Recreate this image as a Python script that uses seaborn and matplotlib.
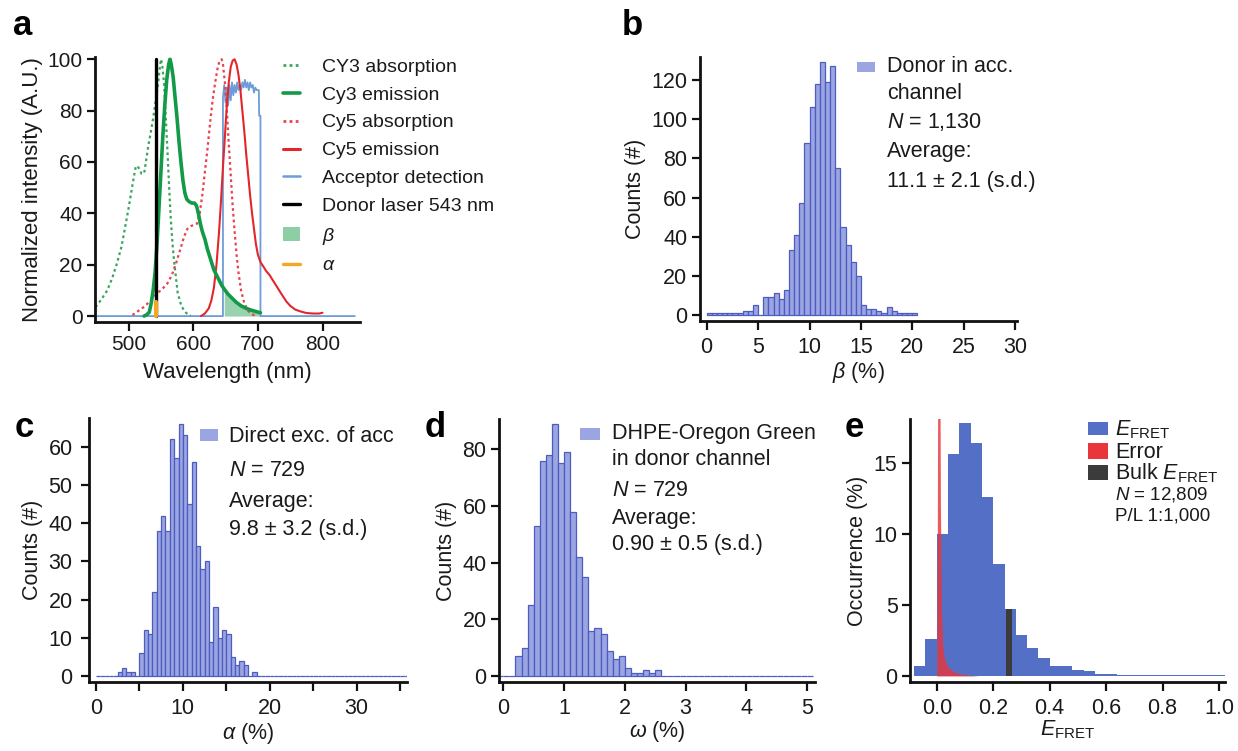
import numpy as np
import matplotlib
matplotlib.use('Agg')
import matplotlib.pyplot as plt
import seaborn as sns
from matplotlib.patches import Patch, Rectangle
from matplotlib.lines import Line2D

sns.set_theme(style='ticks')
plt.rcParams['font.family'] = ['Liberation Sans', 'DejaVu Sans']
plt.rcParams['mathtext.fontset'] = 'custom'
plt.rcParams['mathtext.rm'] = 'Liberation Sans'
plt.rcParams['mathtext.it'] = 'Liberation Sans:italic'
plt.rcParams['mathtext.bf'] = 'Liberation Sans:bold'
plt.rcParams['axes.unicode_minus'] = False

# ---------------- Panel a: spectra ----------------
cy3_abs_wl = [449, 458, 467, 475, 482, 489, 495, 500, 504, 508, 511, 514, 517, 520, 524, 528, 531, 534,
              538, 542, 545, 548, 550, 552, 555, 558, 560, 563, 565, 568, 571, 576, 581, 586, 591, 596]
cy3_abs_val = [3.5, 6.5, 10, 15, 20.5, 27, 35, 42, 48, 54, 58, 58.5, 57, 55.5, 55.5, 62, 67, 71,
               77, 84, 89, 96, 100, 98, 90, 75, 65, 49, 39, 28, 20, 9, 4.5, 2, 0.8, 0.3]

cy3_em_wl = [524, 528, 532, 535, 538, 541, 544, 547, 550, 553, 556, 559, 562, 564, 566, 569, 572, 575,
             578, 581, 584, 587, 590, 594, 598, 602, 605, 608, 611, 614, 618, 622, 627, 632, 638, 644,
             648, 654, 660, 666, 674, 682, 690, 698, 704]
cy3_em_val = [0, 0.5, 1.5, 5, 10, 17, 28, 42, 56, 70, 82, 92, 98, 100, 98, 93, 85, 77,
              68, 60, 53, 48, 45.5, 44.5, 44, 44, 43, 40, 36, 33, 30, 26, 22, 18, 15, 12,
              10.5, 8.5, 7, 5.5, 4, 3, 2.3, 1.7, 1.3]

cy5_abs_wl = [506, 515, 524, 534, 544, 552, 560, 567, 574, 580, 586, 591, 596, 601, 606, 610, 614, 618,
              622, 626, 630, 634, 638, 641, 644, 646, 649, 652, 655, 658, 661, 664, 667, 670, 674, 679,
              685, 691, 697]
cy5_abs_val = [0.4, 2, 3.6, 6, 8.8, 10.5, 12.7, 16, 21, 26, 31, 34, 35, 35.5, 36, 40, 47, 56,
               65, 75, 84, 91, 97, 99.5, 100, 98, 91, 80, 67, 55, 43, 33, 24, 17, 10, 5,
               2, 0.7, 0]

cy5_em_wl = [612, 618, 624, 628, 632, 636, 640, 643, 646, 649, 652, 655, 658, 661, 664, 667, 670, 673,
             676, 679, 682, 685, 688, 691, 694, 697, 700, 704, 708, 713, 718, 723, 728, 733, 738, 744,
             750, 758, 766, 775, 785, 795, 800]
cy5_em_val = [0, 1, 3, 6, 11, 20, 33, 45, 58, 70, 82, 91, 97, 99.5, 100, 98, 94, 88,
              80, 72, 63, 55, 47, 40, 34, 28, 24, 21, 19.5, 17.5, 16, 14, 12, 10, 8, 5.7,
              4, 2.5, 1.8, 1.2, 1, 1, 1.3]

det_wl = [448, 646, 646, 648, 650, 652, 654, 656, 658, 660, 662, 664, 666, 668, 670, 672, 674, 676,
          678, 680, 682, 684, 686, 688, 690, 692, 694, 696, 698, 700, 701.5, 702, 704, 704, 850]
det_val = [0, 0, 85, 90, 83, 89, 82, 90, 84, 91, 86, 90, 87, 91, 88, 90, 88, 91,
           89, 92, 89, 91, 88, 91, 89, 90, 87, 89, 88, 88, 88, 78, 78, 0, 0]

laser_wl = [543, 543]
laser_val = [0, 100]
alpha_wl = [542, 542]
alpha_val = [0, 5.5]
beta_range = (648, 704)

# ---------------- Panel b ----------------
b_start, b_width = 0.0, 0.5
b_counts = [1, 1, 1, 1, 1, 1, 1, 2, 2, 5, 0, 9, 9, 11, 8, 13, 33, 41, 57, 88, 106, 118, 129, 119,
            127, 75, 45, 36, 27, 20, 5, 3, 3, 2, 1, 4, 2, 1, 1, 1, 1]

# ---------------- Panel c ----------------
c_start, c_width = 0.0, 0.5
c_counts = [0, 0, 0, 0, 0, 1, 2, 1, 1, 0, 6, 12, 11, 22, 38, 42, 38, 62, 57, 66, 63, 45, 56, 34,
            28, 30, 9, 18, 10, 12, 11, 5, 3, 4, 3, 0, 1] + [0] * 35

# ---------------- Panel d ----------------
d_start, d_width = -0.1, 0.1
d_counts = [0, 0, 0, 7, 10, 25, 53, 76, 78, 89, 75, 79, 58, 42, 35, 16, 17, 15, 9, 6, 7, 3, 1, 1,
            2, 1, 2] + [0] * 25

# ---------------- Panel e ----------------
e_start, e_width = -0.08, 0.04
e_occ = [0.7, 2.6, 10, 15.6, 17.8, 16.4, 12.6, 7.9, 4.7, 2.9, 2.0, 1.3, 0.7, 0.7, 0.4, 0.35,
         0.15, 0.12, 0.1, 0.1, 0.08, 0.08, 0.06, 0.06, 0.05, 0.05, 0.04, 0.04]
err_x = [0.0, 0.002, 0.0035, 0.011, 0.013, 0.015, 0.017, 0.021, 0.026, 0.032, 0.04, 0.05, 0.065,
         0.085, 0.11, 0.15]
err_y = [0, 10, 22, 22, 12, 8, 4.5, 2.2, 1.4, 0.95, 0.65, 0.45, 0.25, 0.14, 0.06, 0]
bulk_efret = 0.2555
bulk_width = 0.0235
bulk_occ = 4.7

# ---------------- colours ----------------
GREEN_DOT = '#3aa55d'
GREEN = '#139a48'
RED_DOT = '#e8424f'
RED = '#e3262c'
BLUE = '#6d9cd8'
BETA = '#8dcea5'
ALPHA_C = '#f5a623'
H_FILL = '#9aa5e2'
H_EDGE = '#4c5cc0'
E_BLUE = '#5470c6'
E_RED = '#e8363c'
E_BULK = '#3b3b3b'
TXT = '#1a1a1a'

TICK_FS = 15.5
LAB_FS = 15.5
LEG_FS = 15.5

fig = plt.figure(figsize=(12.38, 7.51), dpi=100)
fig.patch.set_facecolor('white')


def style(ax, xlim, ylim, xticks, yticks, xticklabels=None, tfs=TICK_FS):
    ax.set_xlim(*xlim)
    ax.set_ylim(*ylim)
    ax.set_xticks(xticks)
    ax.set_yticks(yticks)
    if xticklabels is not None:
        ax.set_xticklabels(xticklabels)
    for s in ['top', 'right']:
        ax.spines[s].set_visible(False)
    for s in ['left', 'bottom']:
        ax.spines[s].set_linewidth(2.0)
        ax.spines[s].set_color('#111111')
    ax.tick_params(axis='x', direction='out', length=6.5, width=1.6, labelsize=tfs,
                   color='#111111', labelcolor=TXT, pad=5)
    ax.tick_params(axis='y', direction='out', length=6, width=1.6, labelsize=tfs,
                   color='#111111', labelcolor=TXT, pad=3)
    ax.grid(False)
    ax.set_facecolor('white')


def hist(ax, start, width, counts, fill, edge, lw):
    edges = [start + width * i for i in range(len(counts) + 1)]
    centers = [(edges[i] + edges[i + 1]) / 2 for i in range(len(counts))]
    sns.histplot(x=centers, weights=list(counts), bins=edges, ax=ax, color=fill, edgecolor=edge,
                 linewidth=lw, alpha=1, legend=False)


def swatch(ax, x, y, w, h, color):
    ax.add_patch(Rectangle((x, y), w, h, transform=ax.transAxes, facecolor=color,
                           edgecolor='none', clip_on=False))


# ======== a ========
ax = fig.add_axes([0.0767, 0.5716, 0.2141, 0.3529])
sns.lineplot(x=det_wl, y=det_val, ax=ax, color=BLUE, lw=1.3, estimator=None, sort=False)
sub_wl = [w for w in cy3_em_wl if beta_range[0] <= w <= beta_range[1]]
sub_v = [v for w, v in zip(cy3_em_wl, cy3_em_val) if beta_range[0] <= w <= beta_range[1]]
ax.fill_between(sub_wl, 0, sub_v, color=BETA, lw=0, alpha=0.9)
sns.lineplot(x=cy3_abs_wl, y=cy3_abs_val, ax=ax, color=GREEN_DOT, lw=1.6, linestyle=(0, (1.2, 1.4)),
             estimator=None, sort=False)
sns.lineplot(x=cy5_abs_wl, y=cy5_abs_val, ax=ax, color=RED_DOT, lw=1.6, linestyle=(0, (1.2, 1.4)),
             estimator=None, sort=False)
sns.lineplot(x=cy5_em_wl, y=cy5_em_val, ax=ax, color=RED, lw=1.5, estimator=None, sort=False)
sns.lineplot(x=cy3_em_wl, y=cy3_em_val, ax=ax, color=GREEN, lw=2.6, estimator=None, sort=False)
sns.lineplot(x=laser_wl, y=laser_val, ax=ax, color='black', lw=2.4, estimator=None, sort=False)
sns.lineplot(x=alpha_wl, y=alpha_val, ax=ax, color=ALPHA_C, lw=3.0, estimator=None, sort=False)
style(ax, (448, 858), (-2.2, 101), [500, 600, 700, 800], [0, 20, 40, 60, 80, 100], tfs=15)
ax.tick_params(axis='x', pad=3)
ax.set_xlabel('Wavelength (nm)', fontsize=16, color=TXT, labelpad=6)
ax.set_ylabel('Normalized intensity (A.U.)', fontsize=16, color=TXT, labelpad=3)
handles = [
    Line2D([], [], color=GREEN_DOT, lw=2, ls=(0, (1, 1.2))),
    Line2D([], [], color=GREEN, lw=2.6),
    Line2D([], [], color=RED_DOT, lw=2, ls=(0, (1, 1.2))),
    Line2D([], [], color=RED, lw=2.2),
    Line2D([], [], color=BLUE, lw=1.8),
    Line2D([], [], color='black', lw=2.4),
    Patch(facecolor=BETA, edgecolor='none'),
    Line2D([], [], color=ALPHA_C, lw=2.4),
]
labels = ['CY3 absorption', 'Cy3 emission', 'Cy5 absorption', 'Cy5 emission', 'Acceptor detection',
          'Donor laser 543 nm', r'$\beta$', r'$\alpha$']
leg = ax.legend(handles, labels, loc='upper left', bbox_to_anchor=(0.709, 0.995), frameon=False,
                fontsize=14, borderpad=0, borderaxespad=0, handlelength=0.9, handletextpad=1.1,
                labelspacing=0.53)
for t in leg.get_texts():
    t.set_color(TXT)

# ======== b ========
ax = fig.add_axes([0.5654, 0.5730, 0.2563, 0.3507])
hist(ax, b_start, b_width, b_counts, H_FILL, H_EDGE, 0.9)
style(ax, (-0.65, 30.2), (-2.9, 131.6), [0, 5, 10, 15, 20, 25, 30], [0, 20, 40, 60, 80, 100, 120])
ax.set_xlabel(r'$\beta$ (%)', fontsize=LAB_FS, color=TXT, labelpad=2)
ax.set_ylabel('Counts (#)', fontsize=LAB_FS, color=TXT, labelpad=4)
swatch(ax, 0.4948, 0.9453, 0.0567, 0.038, H_FILL)
tx = 0.589
for yy, s in [(0.964, 'Donor in acc.'), (0.863, 'channel'), (0.755, r'$N$ = 1,130'),
              (0.642, 'Average:'), (0.528, '11.1 ± 2.1 (s.d.)')]:
    ax.text(tx, yy, s, transform=ax.transAxes, fontsize=LEG_FS, va='center', ha='left', color=TXT)

# ======== c ========
ax = fig.add_axes([0.0721, 0.0923, 0.2564, 0.3507])
hist(ax, c_start, c_width, c_counts, H_FILL, H_EDGE, 0.9)
style(ax, (-0.77, 35.75), (-1.5, 67.5), [0, 5, 10, 15, 20, 25, 30, 35], [0, 10, 20, 30, 40, 50, 60],
      ['0', '', '10', '', '20', '', '30', ''])
ax.tick_params(axis='y', pad=6)
ax.set_xlabel(r'$\alpha$ (%)', fontsize=LAB_FS, color=TXT, labelpad=2)
ax.set_ylabel('Counts (#)', fontsize=LAB_FS, color=TXT, labelpad=4)
swatch(ax, 0.3488, 0.915, 0.0577, 0.0433, H_FILL)
tx = 0.440
for yy, s in [(0.930, 'Direct exc. of acc'), (0.803, r'$N$ = 729'),
              (0.683, 'Average:'), (0.576, '9.8 ± 3.2 (s.d.)')]:
    ax.text(tx, yy, s, transform=ax.transAxes, fontsize=LEG_FS, va='center', ha='left', color=TXT)

# ======== d ========
ax = fig.add_axes([0.4031, 0.0923, 0.2553, 0.3494])
hist(ax, d_start, d_width, d_counts, H_FILL, H_EDGE, 0.9)
style(ax, (-0.07, 5.13), (-2.0, 90.6), [0, 1, 2, 3, 4, 5], [0, 20, 40, 60, 80])
ax.set_xlabel(r'$\omega$ (%)', fontsize=LAB_FS, color=TXT, labelpad=0)
ax.set_ylabel('Counts (#)', fontsize=LAB_FS, color=TXT, labelpad=4)
swatch(ax, 0.2563, 0.921, 0.0633, 0.0446, H_FILL)
tx = 0.357
for yy, s in [(0.947, 'DHPE-Oregon Green'), (0.845, 'in donor channel'), (0.730, r'$N$ = 729'),
              (0.623, 'Average:'), (0.521, '0.90 ± 0.5 (s.d.)')]:
    ax.text(tx, yy, s, transform=ax.transAxes, fontsize=LEG_FS, va='center', ha='left', color=TXT)

# ======== e ========
ax = fig.add_axes([0.7351, 0.0923, 0.2544, 0.3494])
hist(ax, e_start, e_width, e_occ, E_BLUE, E_BLUE, 0)
ax.bar([bulk_efret], [bulk_occ], width=bulk_width, color=E_BULK, linewidth=0, zorder=3)
ax.fill_between(err_x, 0, err_y, color=E_RED, alpha=0.82, lw=0, zorder=4)
style(ax, (-0.0946, 1.021), (-0.4, 18.05), [0.0, 0.2, 0.4, 0.6, 0.8, 1.0], [0, 5, 10, 15],
      ['0.0', '0.2', '0.4', '0.6', '0.8', '1.0'])
ax.set_xlabel(r'$E_{\mathrm{FRET}}$', fontsize=LAB_FS, color=TXT, labelpad=0)
ax.set_ylabel('Occurrence (%)', fontsize=LAB_FS, color=TXT, labelpad=4)
swatch(ax, 0.566, 0.940, 0.0635, 0.0507, E_BLUE)
swatch(ax, 0.566, 0.8476, 0.0635, 0.061, E_RED)
swatch(ax, 0.566, 0.7687, 0.0635, 0.0572, E_BULK)
tx = 0.651
for yy, s, fs in [(0.962, r'$E_{\mathrm{FRET}}$', 15.5), (0.873, 'Error', 15.5),
                  (0.796, r'Bulk $E_{\mathrm{FRET}}$', 15.5), (0.714, r'$N$ = 12,809', 13.5),
                  (0.632, 'P/L 1:1,000', 13.5)]:
    ax.text(tx, yy, s, transform=ax.transAxes, fontsize=fs, va='center', ha='left', color=TXT)

# panel letters
for x, y, s in [(0.0105, 0.953, 'a'), (0.5024, 0.953, 'b'), (0.0121, 0.418, 'c'),
                (0.3433, 0.418, 'd'), (0.6826, 0.418, 'e')]:
    fig.text(x, y, s, fontsize=25, fontweight='bold', color='black', va='baseline', ha='left')

fig.savefig('out.png', dpi=100, facecolor='white')
